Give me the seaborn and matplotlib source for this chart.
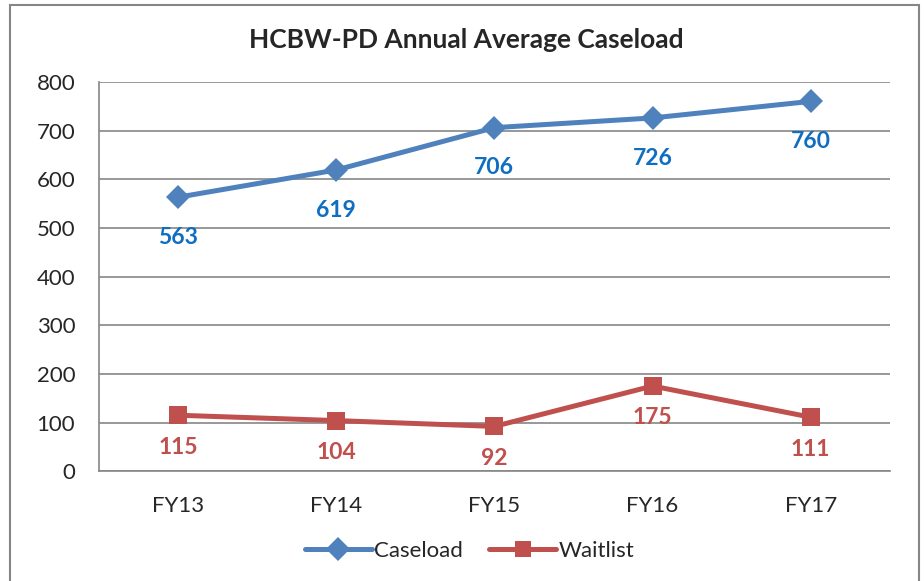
import numpy as np
import pandas as pd
import matplotlib.pyplot as plt
import seaborn as sns
from matplotlib.patches import Rectangle

# data
years = ['FY13', 'FY14', 'FY15', 'FY16', 'FY17']
caseload = [563, 619, 706, 726, 760]
waitlist = [115, 104, 92, 175, 111]

df = pd.DataFrame({
    'year': years * 2,
    'value': caseload + waitlist,
    'series': ['Caseload'] * 5 + ['Waitlist'] * 5,
})

sns.set_style('white')
plt.rcParams['font.family'] = ['Lato', 'DejaVu Sans']

line_cols = {'Caseload': '#4F81BD', 'Waitlist': '#C0504D'}
label_cols = {'Caseload': '#0F6EC0', 'Waitlist': '#C0504D'}

fig = plt.figure(figsize=(9.24, 5.81), dpi=100)
ax = fig.add_axes([0.107, 0.189, 0.856, 0.670])

sns.lineplot(data=df, x='year', y='value', hue='series', style='series',
             markers={'Caseload': 'D', 'Waitlist': 's'}, dashes=False,
             palette=line_cols, linewidth=3.6, markersize=12,
             markeredgewidth=0, ax=ax, sort=False)
# square marker a bit larger than the diamond
ax.lines[1].set_markersize(13)

# data labels below the points
x = np.arange(len(years))
for i, v in enumerate(caseload):
    ax.annotate(str(v), (x[i], v), xytext=(0, -29), textcoords='offset points',
                ha='center', va='center', fontsize=16.5, fontweight='bold',
                color=label_cols['Caseload'])
for i, v in enumerate(waitlist):
    ax.annotate(str(v), (x[i], v), xytext=(0, -23), textcoords='offset points',
                ha='center', va='center', fontsize=16.5, fontweight='bold',
                color=label_cols['Waitlist'])

ax.set_xlim(-0.5, 4.5)
ax.set_ylim(0, 800)
ax.set_yticks(range(0, 801, 100))
ax.set_xticks(x)
ax.set_xticklabels(years)
ax.set_xticks(np.arange(-0.5, 5, 1), minor=True)
ax.tick_params(axis='x', which='major', length=0, pad=18, labelsize=16)
ax.tick_params(axis='x', which='minor', length=6, color='#868686', width=1.2)
ax.tick_params(axis='y', length=6, color='#868686', width=1.2, labelsize=16, pad=11)
ax.yaxis.grid(True, color='#868686', linewidth=1.2)
ax.set_axisbelow(True)
for s in ['top', 'right']:
    ax.spines[s].set_visible(False)
for s in ['left', 'bottom']:
    ax.spines[s].set_color('#868686')
    ax.spines[s].set_linewidth(1.2)
ax.set_xlabel('')
ax.set_ylabel('')

ax.legend_.remove()
h, l = ax.get_legend_handles_labels()
fig.legend(h, l, loc='center', bbox_to_anchor=(0.508, 0.052), ncol=2, frameon=False,
           fontsize=16, handlelength=3.0, columnspacing=1.2, handletextpad=0.1)

fig.text(0.505, 0.931, 'HCBW-PD Annual Average Caseload', ha='center', va='center',
         fontsize=19, fontweight='bold')

# chart frame
fig.patches.append(Rectangle((0.011, -0.05), 0.984, 1.041, transform=fig.transFigure,
                             fill=False, edgecolor='#868686', linewidth=1.5))

fig.savefig('out.png', dpi=100)
